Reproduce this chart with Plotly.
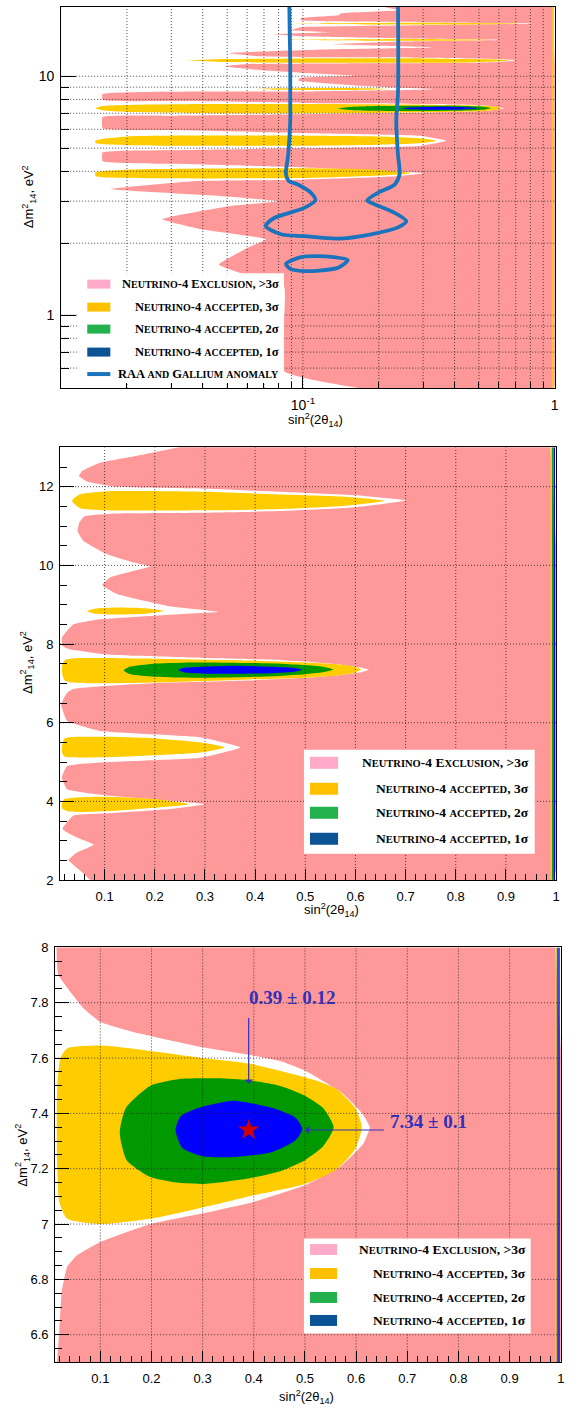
import math
import plotly.graph_objects as go

W, H = 585, 1410

# ------------------------------------------------------------------
# Data: (sin^2(2θ14), Δm^2_14) pairs
# ------------------------------------------------------------------
# Panel 1 (log-log): left boundary of the >3σ exclusion region, top -> bottom
excl_p1 = [(0.195, 20.6), (0.214, 19.4), (0.241, 18.9), (0.142, 18.35), (0.138, 18.0),
           (0.098, 17.5), (0.098, 17.15), (0.295, 16.85), (0.832, 16.6), (0.295, 16.35),
           (0.098, 16.03), (0.0896, 15.6), (0.129, 15.28), (0.0766, 15.0), (0.098, 14.7),
           (0.246, 14.4), (0.616, 14.2), (0.246, 13.98), (0.129, 13.6), (0.324, 13.2),
           (0.129, 12.97), (0.0502, 12.5), (0.065, 12.13), (0.12, 12.0), (0.3, 11.95),
           (0.45, 11.87), (0.6, 11.78), (0.70, 11.65), (0.6, 11.48), (0.45, 11.38),
           (0.3, 11.34), (0.12, 11.32), (0.06, 11.25), (0.0484, 11.0), (0.068, 10.6),
           (0.098, 10.35), (0.16, 10.05), (0.098, 9.85), (0.0955, 9.6), (0.129, 9.3),
           (0.225, 8.97), (0.328, 8.83), (0.225, 8.74), (0.098, 8.63), (0.016, 8.42),
           (0.016, 7.95), (0.03, 7.87), (0.054, 7.82), (0.1, 7.735), (0.166, 7.70),
           (0.296, 7.645), (0.39, 7.612), (0.5, 7.555), (0.572, 7.475), (0.627, 7.35),
           (0.572, 7.212), (0.5, 7.14), (0.4, 7.08), (0.296, 7.037), (0.198, 7.0),
           (0.1, 6.935), (0.054, 6.886), (0.03, 6.84), (0.016, 6.75), (0.016, 6.06),
           (0.03, 5.95), (0.091, 5.79), (0.291, 5.63), (0.371, 5.37), (0.291, 5.11),
           (0.091, 4.99), (0.03, 4.9), (0.016, 4.8), (0.016, 4.41), (0.03, 4.3),
           (0.091, 4.17), (0.299, 3.93), (0.225, 3.80), (0.1, 3.69), (0.038, 3.64),
           (0.0172, 3.37), (0.0471, 3.15), (0.0795, 3.0), (0.0516, 2.86), (0.0277, 2.52),
           (0.0393, 2.29), (0.0713, 2.08), (0.0621, 1.94), (0.0463, 1.63), (0.0566, 1.50),
           (0.084, 1.32), (0.084, 0.583), (0.205, 0.48)]

# Panel 2 (linear): left boundary of the exclusion region
excl_p2 = [(0.285, 13.1), (0.178, 12.82), (0.091, 12.61), (0.055, 12.40), (0.049, 12.27),
           (0.065, 12.13), (0.12, 12.0), (0.3, 11.95), (0.45, 11.87), (0.6, 11.78),
           (0.70, 11.65), (0.6, 11.48), (0.45, 11.38), (0.3, 11.34), (0.12, 11.32),
           (0.06, 11.25), (0.05, 11.1), (0.046, 10.87), (0.058, 10.62), (0.105, 10.28),
           (0.158, 10.07), (0.191, 9.97), (0.158, 9.86), (0.111, 9.69), (0.095, 9.50),
           (0.125, 9.27), (0.225, 8.97), (0.328, 8.82), (0.225, 8.74), (0.091, 8.63),
           (0.038, 8.50), (0.0147, 8.16), (0.016, 7.95), (0.03, 7.87), (0.054, 7.82),
           (0.1, 7.735), (0.166, 7.70), (0.296, 7.645), (0.39, 7.615), (0.454, 7.59),
           (0.5, 7.555), (0.572, 7.475), (0.612, 7.40), (0.627, 7.35), (0.614, 7.29),
           (0.572, 7.215), (0.5, 7.14), (0.4, 7.08), (0.296, 7.04), (0.198, 7.005),
           (0.1, 6.935), (0.054, 6.886), (0.035, 6.845), (0.025, 6.76), (0.0133, 6.47),
           (0.025, 6.05), (0.091, 5.79), (0.291, 5.63), (0.371, 5.37), (0.291, 5.11),
           (0.091, 4.99), (0.025, 4.90), (0.0147, 4.61), (0.025, 4.31), (0.091, 4.17),
           (0.299, 3.93), (0.225, 3.80), (0.1, 3.69), (0.038, 3.64), (0.016, 3.30),
           (0.045, 3.08), (0.078, 2.90), (0.045, 2.70), (0.028, 2.51), (0.051, 2.24),
           (0.071, 2.0), (0.075, 1.9)]

# Panel 3 (zoom): left boundary of the exclusion region
excl_p3 = [(0.014, 8.05), (0.015, 7.95), (0.018, 7.90), (0.0345, 7.856), (0.067, 7.78),
           (0.1, 7.73), (0.166, 7.693), (0.296, 7.64), (0.39, 7.612), (0.454, 7.588),
           (0.5, 7.555), (0.572, 7.475), (0.612, 7.40), (0.627, 7.35), (0.614, 7.29),
           (0.572, 7.212), (0.5, 7.14), (0.4, 7.08), (0.296, 7.037), (0.198, 7.0),
           (0.1, 6.935), (0.054, 6.886), (0.035, 6.845), (0.025, 6.76), (0.02, 6.62),
           (0.016, 6.51), (0.015, 6.45)]

excl_right_edge = [0.975, 0.988, 0.987]       # right end of the exclusion in panels 1,2,3

# accepted 3σ islands
acc3_1164 = [(0.035, 11.64), (0.05, 11.8), (0.1, 11.88), (0.3, 11.87), (0.45, 11.8),
             (0.585, 11.74), (0.658, 11.64), (0.585, 11.52), (0.45, 11.43), (0.3, 11.4),
             (0.1, 11.4), (0.05, 11.46)]
acc3_885 = [(0.065, 8.84), (0.08, 8.9), (0.12, 8.93), (0.18, 8.91), (0.218, 8.84),
            (0.18, 8.77), (0.12, 8.75), (0.08, 8.77)]
acc3_734 = [(0.015, 7.34), (0.016, 7.5), (0.022, 7.6), (0.035, 7.635), (0.1, 7.645),
            (0.18, 7.63), (0.3, 7.6), (0.39, 7.58), (0.46, 7.55), (0.52, 7.52), (0.56, 7.49),
            (0.598, 7.42), (0.611, 7.35), (0.598, 7.27), (0.56, 7.195), (0.5, 7.145),
            (0.39, 7.1), (0.3, 7.06), (0.2, 7.02), (0.1, 7.0), (0.035, 7.02), (0.02, 7.08),
            (0.016, 7.2)]
acc3_540 = [(0.015, 5.38), (0.02, 5.6), (0.1, 5.64), (0.2, 5.6), (0.29, 5.5), (0.339, 5.37),
            (0.29, 5.24), (0.2, 5.17), (0.1, 5.12), (0.02, 5.14), (0.015, 5.25)]
acc3_400 = [(0.015, 3.95), (0.02, 4.06), (0.1, 4.12), (0.2, 4.06), (0.268, 3.93),
            (0.2, 3.84), (0.1, 3.75), (0.03, 3.74), (0.015, 3.82)]
acc3_1660 = [(0.092, 16.6), (0.3, 16.75), (0.74, 16.6), (0.3, 16.45)]
acc3_1420 = [(0.087, 14.2), (0.3, 14.32), (0.546, 14.2), (0.3, 14.08)]

# accepted 2σ and 1σ islands
acc2_734 = [(0.138, 7.33), (0.15, 7.42), (0.198, 7.5), (0.258, 7.525), (0.33, 7.527),
            (0.389, 7.52), (0.45, 7.5), (0.499, 7.465), (0.535, 7.42), (0.556, 7.35),
            (0.535, 7.28), (0.499, 7.23), (0.45, 7.19), (0.389, 7.165), (0.3, 7.145),
            (0.25, 7.15), (0.198, 7.17), (0.152, 7.23)]
acc1_734 = [(0.247, 7.34), (0.257, 7.39), (0.296, 7.422), (0.36, 7.446), (0.435, 7.42),
            (0.481, 7.385), (0.495, 7.344), (0.481, 7.302), (0.435, 7.26), (0.36, 7.242),
            (0.3, 7.245), (0.26, 7.275)]

# thin accepted strips at sin^2 ~ 1 (3σ, 2σ, 1σ)
edge_strip_x = [0.9905, 0.9935, 0.9965]

# RAA + Gallium anomaly contour (panel 1)
raa_main = [(0.0882, 21.0), (0.0886, 15.0), (0.089, 11.55), (0.089, 8.0), (0.089, 6.48),
            (0.0874, 4.72), (0.0856, 3.89), (0.0879, 3.64), (0.0953, 3.52), (0.1076, 3.25),
            (0.112, 3.03), (0.1012, 2.81), (0.0769, 2.55), (0.0712, 2.36), (0.0817, 2.18),
            (0.1012, 2.14), (0.1374, 2.09), (0.1866, 2.18), (0.2384, 2.33), (0.2572, 2.47),
            (0.2311, 2.68), (0.1866, 2.95), (0.1799, 3.02), (0.1985, 3.25), (0.2311, 3.52),
            (0.2418, 3.88), (0.2384, 4.70), (0.2347, 6.48), (0.2384, 8.5), (0.2384, 21.0)]
raa_island = [(0.0856, 1.639), (0.0982, 1.748), (0.111, 1.766), (0.1329, 1.748),
              (0.1507, 1.699), (0.1457, 1.635), (0.1374, 1.577), (0.1158, 1.535),
              (0.1012, 1.528), (0.0896, 1.557), (0.0856, 1.639)]

# best fit
best_fit_sin2 = 0.39
best_fit_sin2_err = 0.12
best_fit_dm2 = 7.34
best_fit_dm2_err = 0.1

# axis ticks / grid
p1_x_major = [0.1, 1]
p1_x_major_text = ["10<sup>-1</sup>", "1"]
p1_x_minor = [0.02, 0.03, 0.04, 0.05, 0.06, 0.07, 0.08, 0.09, 0.2, 0.3, 0.4, 0.5, 0.6, 0.7, 0.8, 0.9]
p1_y_major = [1, 10]
p1_y_major_text = ["1", "10"]
p1_y_minor = [0.6, 0.7, 0.8, 0.9, 2, 3, 4, 5, 6, 7, 8, 9, 20]
lin_x_grid = [0.1, 0.2, 0.3, 0.4, 0.5, 0.6, 0.7, 0.8, 0.9]
p2_y_grid = [4, 6, 8, 10, 12]
p3_y_grid = [6.6, 6.8, 7.0, 7.2, 7.4, 7.6, 7.8]

legend_labels = ["Neutrino-4 Exclusion, >3σ", "Neutrino-4 accepted, 3σ",
                 "Neutrino-4 accepted, 2σ", "Neutrino-4 accepted, 1σ",
                 "RAA and Gallium anomaly"]

# ------------------------------------------------------------------
PINK, YEL, GRN, BLU = "#FF9999", "#FFCC00", "#009900", "#0000FF"
LEG_COLORS = ["#FFAAC8", "#FFC000", "#22B14C", "#0B5394"]
RAA_COLOR = "#1A73BD"
ANN_COLOR = "#3030B8"

# the page is photographed slightly scaled; compensate so the final picture lands on target
SCALE, OFF_Y = 0.99, 5.7


def ix(px):                      # target picture x -> figure x
    return px / SCALE


def iy(py):                      # target picture y -> figure y
    return (py - OFF_Y) / SCALE


def PX(px):
    return min(max(ix(px) / W, 0.0), 1.0)


def PY(py):
    return min(max(1 - iy(py) / H, 0.0), 1.0)


def axis_setup(p0, v0, p1, v1, lo, hi, log, vertical):
    """Calibrate an axis from two (picture pixel, value) anchors; return domain & range."""
    f = (lambda v: math.log10(v)) if log else (lambda v: v)
    slope = (f(v1) - f(v0)) / (p1 - p0)
    if vertical:
        lo_c = max(lo, OFF_Y)            # top edge cannot be drawn above the page
        dom = [PY(hi), PY(lo_c)]
        rng = [f(v0) + (hi - p0) * slope, f(v0) + (lo_c - p0) * slope]
    else:
        dom = [PX(lo), PX(hi)]
        rng = [f(v0) + (lo - p0) * slope, f(v0) + (hi - p0) * slope]
    return dom, rng


# target pixel geometry of the three panels (from the reference)
d1x, r1x = axis_setup(302, 0.1, 553, 1.0, 61, 553, True, False)
d1y, r1y = axis_setup(75, 10, 314, 1, 2, 387, True, True)
d2x, r2x = axis_setup(104.3, 0.1, 554.3, 1.0, 59.8, 554.3, False, False)
d2y, r2y = axis_setup(485.7, 12, 879.3, 2, 446.3, 879.3, False, True)
d3x, r3x = axis_setup(100, 0.1, 559, 1.0, 55, 559, False, False)
d3y, r3y = axis_setup(946.7, 8, 1334.3, 6.6, 946.7, 1362, False, True)

P1 = dict(xrange=(10 ** r1x[0], 10 ** r1x[1]), yrange=(10 ** r1y[0], 10 ** r1y[1]), xaxis="x", yaxis="y")
P2 = dict(xrange=tuple(r2x), yrange=tuple(r2y), xaxis="x2", yaxis="y2")
P3 = dict(xrange=tuple(r3x), yrange=tuple(r3y), xaxis="x3", yaxis="y3")

fig = go.Figure()


def unzip(pairs):
    return [p[0] for p in pairs], [p[1] for p in pairs]


def add_fill(pairs, color, panel, shape="linear", right=None, smoothing=0.6):
    xs, ys = unzip(pairs)
    if right is not None:
        xs = xs + [right, right]
        ys = ys + [ys[-1], ys[0]]
    else:
        xs = xs + [xs[0]]
        ys = ys + [ys[0]]
    fig.add_trace(go.Scatter(x=xs, y=ys, mode="lines", fill="toself", fillcolor=color,
                             line=dict(width=0, color=color, shape=shape, smoothing=smoothing),
                             xaxis=panel["xaxis"], yaxis=panel["yaxis"],
                             hoverinfo="skip", showlegend=False))


def add_grid(panel, xv, yv):
    gx, gy = [], []
    for v in xv:
        gx += [v, v, None]
        gy += [panel["yrange"][0], panel["yrange"][1], None]
    for v in yv:
        gx += [panel["xrange"][0], panel["xrange"][1], None]
        gy += [v, v, None]
    fig.add_trace(go.Scatter(x=gx, y=gy, mode="lines",
                             line=dict(color="rgba(30,30,30,0.8)", width=1, dash="1px,2px"),
                             xaxis=panel["xaxis"], yaxis=panel["yaxis"],
                             hoverinfo="skip", showlegend=False))


def add_edge_strips(panel, xs):
    for v, c in zip(xs, [YEL, GRN, BLU]):
        fig.add_trace(go.Scatter(x=[v, v], y=[panel["yrange"][0], panel["yrange"][1]], mode="lines",
                                 line=dict(color=c, width=1.4),
                                 xaxis=panel["xaxis"], yaxis=panel["yaxis"],
                                 hoverinfo="skip", showlegend=False))


# ---------------- panel 1 ----------------
add_fill(excl_p1, PINK, P1, shape="spline", right=excl_right_edge[0], smoothing=0.35)
for isl in [acc3_1660, acc3_1420, acc3_1164, acc3_885, acc3_734, acc3_540, acc3_400]:
    add_fill(isl, YEL, P1, shape="spline")
add_fill(acc2_734, GRN, P1, shape="spline")
add_fill(acc1_734, BLU, P1, shape="spline")
fig.add_trace(go.Scatter(x=[0.984, 0.984], y=[P1["yrange"][0], P1["yrange"][1]], mode="lines",
                         line=dict(color="#FFC040", width=2), xaxis="x", yaxis="y",
                         hoverinfo="skip", showlegend=False))
add_grid(P1, p1_x_minor + p1_x_major[:1], p1_y_minor + p1_y_major)
for curve in [raa_main, raa_island]:
    xs, ys = unzip(curve)
    fig.add_trace(go.Scatter(x=xs, y=ys, mode="lines",
                             line=dict(color=RAA_COLOR, width=3.8, shape="spline", smoothing=0.8),
                             xaxis="x", yaxis="y", hoverinfo="skip", showlegend=False))

# ---------------- panel 2 ----------------
add_fill(excl_p2, PINK, P2, shape="spline", right=excl_right_edge[1], smoothing=0.35)
for isl in [acc3_1164, acc3_885, acc3_734, acc3_540, acc3_400]:
    add_fill(isl, YEL, P2, shape="spline")
add_fill(acc2_734, GRN, P2, shape="spline")
add_fill(acc1_734, BLU, P2, shape="spline")
add_edge_strips(P2, edge_strip_x)
add_grid(P2, lin_x_grid, p2_y_grid)

# ---------------- panel 3 ----------------
add_fill(excl_p3, PINK, P3, shape="spline", right=excl_right_edge[2], smoothing=0.35)
add_fill(acc3_734, YEL, P3, shape="spline")
add_fill(acc2_734, GRN, P3, shape="spline")
add_fill(acc1_734, BLU, P3, shape="spline")
add_edge_strips(P3, edge_strip_x)
add_grid(P3, lin_x_grid, p3_y_grid)
fig.add_trace(go.Scatter(x=[best_fit_sin2], y=[best_fit_dm2], mode="markers",
                         marker=dict(symbol="star", size=16, color="#D00000", line=dict(width=0)),
                         xaxis="x3", yaxis="y3", hoverinfo="skip", showlegend=False))

# ---------------- axes ----------------
tickfont = dict(family="Liberation Sans, Arial", size=13, color="black")
tickfont1 = dict(family="Liberation Sans, Arial", size=14, color="black")
base = dict(showline=True, linecolor="black", linewidth=1, mirror=True, ticks="inside",
            tickcolor="black", tickwidth=1, showgrid=False, zeroline=False,
            layer="above traces", tickfont=tickfont, fixedrange=True)

fig.update_layout(
    width=W, height=H, margin=dict(l=0, r=0, t=0, b=0),
    paper_bgcolor="white", plot_bgcolor="white", showlegend=False,
    xaxis=dict(base, type="log", domain=d1x, range=r1x,
               tickmode="array", tickvals=p1_x_major, ticktext=p1_x_major_text, ticklen=12,
               minor=dict(tickmode="array", tickvals=p1_x_minor, ticklen=6, ticks="inside",
                          tickcolor="black"),
               anchor="y", ticklabelstandoff=4, tickfont=tickfont1),
    yaxis=dict(base, type="log", domain=d1y, range=r1y,
               tickmode="array", tickvals=p1_y_major, ticktext=p1_y_major_text, ticklen=15,
               minor=dict(tickmode="array", tickvals=p1_y_minor, ticklen=8, ticks="inside",
                          tickcolor="black"),
               anchor="x", ticklabelstandoff=3, tickfont=tickfont1),
    xaxis2=dict(base, domain=d2x, range=r2x, tick0=0, dtick=0.1, ticklen=11,
                minor=dict(tick0=0, dtick=0.02, ticklen=6, ticks="inside", tickcolor="black"),
                anchor="y2", ticklabelstandoff=4),
    yaxis2=dict(base, domain=d2y, range=r2y, tick0=0, dtick=2, ticklen=14,
                minor=dict(tick0=0, dtick=0.5, ticklen=7, ticks="inside", tickcolor="black"),
                anchor="x2", ticklabelstandoff=3),
    xaxis3=dict(base, domain=d3x, range=r3x, tick0=0, dtick=0.1, ticklen=11,
                minor=dict(tick0=0, dtick=0.02, ticklen=6, ticks="inside", tickcolor="black"),
                anchor="y3", ticklabelstandoff=4),
    yaxis3=dict(base, domain=d3y, range=r3y, tick0=0, dtick=0.2, ticklen=14,
                minor=dict(tick0=0, dtick=0.05, ticklen=7, ticks="inside", tickcolor="black"),
                anchor="x3", ticklabelstandoff=3),
)

# ---------------- axis titles ----------------
title_font = dict(family="Liberation Sans, Arial", size=13, color="black")
xtitle = "sin<sup>2</sup>(2θ<sub>14</sub>)"
ytitle = "Δm<sup>2</sup><sub>14</sub>, eV<sup>2</sup>"
annotations = []
for (cx, cy) in [(314, 419), (330, 909), (306, 1397)]:
    annotations.append(dict(text=xtitle, x=PX(cx), y=PY(cy), xref="paper", yref="paper",
                            showarrow=False, font=title_font, xanchor="center", yanchor="middle"))
for (cx, cy) in [(29, 196), (27, 662), (22, 1155)]:
    annotations.append(dict(text=ytitle, x=PX(cx), y=PY(cy), xref="paper", yref="paper",
                            showarrow=False, font=title_font, textangle=-90,
                            xanchor="center", yanchor="middle"))


# ---------------- legends (drawn manually) ----------------
def smallcaps(s, small):
    out, buf = [], ""
    for ch in s:
        if ch.isascii() and ch.islower():
            buf += ch.upper()
        else:
            if buf:
                out.append(f"<span style='font-size:{small}px'>{buf}</span>")
                buf = ""
            out.append(ch)
    if buf:
        out.append(f"<span style='font-size:{small}px'>{buf}</span>")
    return "".join(out)


shapes = []


def legend(box, rows, sw, text_right, big, small, n):
    x0, y0, x1, y1 = box
    font = dict(family="Liberation Serif, Times New Roman", size=big, color="black", weight="bold")
    shapes.append(dict(type="rect", xref="paper", yref="paper", x0=PX(x0), x1=PX(x1),
                       y0=PY(y1), y1=PY(y0), fillcolor="white", line=dict(width=0), layer="above"))
    for i in range(n):
        ry = rows[i]
        if i < 4:
            shapes.append(dict(type="rect", xref="paper", yref="paper", x0=PX(sw[0]), x1=PX(sw[1]),
                               y0=PY(ry + sw[2] / 2), y1=PY(ry - sw[2] / 2),
                               fillcolor=LEG_COLORS[i], line=dict(width=0), layer="above"))
        else:
            shapes.append(dict(type="line", xref="paper", yref="paper", x0=PX(sw[0]), x1=PX(sw[1]),
                               y0=PY(ry), y1=PY(ry), line=dict(color=RAA_COLOR, width=4),
                               layer="above"))
        annotations.append(dict(text=smallcaps(legend_labels[i], small), x=PX(text_right),
                                y=PY(ry), xref="paper", yref="paper", showarrow=False, font=font,
                                xanchor="right", yanchor="middle"))


legend((77, 272, 283, 382), [283, 306, 328, 351, 373], (87, 110, 9), 280, 12.5, 10, 5)
legend((303, 749, 533, 853), [762, 788, 812, 838], (309, 337, 12), 529, 13.5, 10.5, 4)
legend((303, 1238, 529, 1333), [1249, 1273, 1297, 1320], (309, 336, 11), 526, 13.5, 10.5, 4)

# ---------------- best-fit annotations (panel 3) ----------------
ann_font = dict(family="Liberation Serif, Times New Roman", size=19, color=ANN_COLOR, weight="bold")
annotations.append(dict(text=f"{best_fit_sin2:.2f} ± {best_fit_sin2_err:.2f}", x=0.474, y=7.818,
                        xref="x3", yref="y3", showarrow=False, font=ann_font,
                        xanchor="center", yanchor="middle"))
annotations.append(dict(text="", x=best_fit_sin2, y=7.507, ax=best_fit_sin2, ay=7.75,
                        xref="x3", yref="y3", axref="x3", ayref="y3", showarrow=True,
                        arrowhead=1, arrowsize=1.2, arrowwidth=1.2, arrowcolor=ANN_COLOR))
annotations.append(dict(text=f"{best_fit_dm2:.2f} ± {best_fit_dm2_err:g}", x=0.742, y=7.371,
                        xref="x3", yref="y3", showarrow=False, font=ann_font,
                        xanchor="center", yanchor="middle"))
annotations.append(dict(text="", x=0.5, y=best_fit_dm2, ax=0.657, ay=best_fit_dm2,
                        xref="x3", yref="y3", axref="x3", ayref="y3", showarrow=True,
                        arrowhead=1, arrowsize=1.2, arrowwidth=1.2, arrowcolor=ANN_COLOR))

fig.update_layout(shapes=shapes, annotations=annotations)
fig.write_html(
    "out.html",
    config={"displayModeBar": False},
    post_script=("document.body.style.margin='0px';"
                 "document.body.style.overflow='hidden';"
                 "document.documentElement.style.overflow='hidden';"),
)
